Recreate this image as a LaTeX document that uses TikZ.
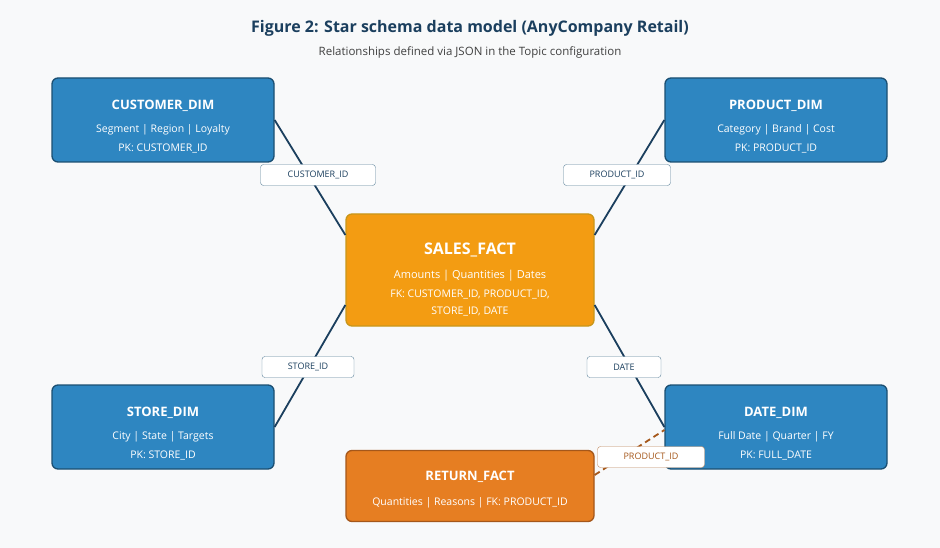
\documentclass[tikz,border=0pt]{standalone}
\usepackage{fontspec}
\setmainfont{Open Sans}
\usetikzlibrary{positioning,calc}
\definecolor{dimfill}{HTML}{2E86C1}
\definecolor{dimline}{HTML}{1B4F72}
\definecolor{factfill}{HTML}{F39C12}
\definecolor{factline}{HTML}{C8961A}
\definecolor{retfill}{HTML}{E67E22}
\definecolor{retline}{HTML}{A5571A}
\definecolor{linkcol}{HTML}{1B3F5E}
\definecolor{bgcol}{HTML}{F8F9FA}
\newcommand{\boxtitle}[2]{{\fontsize{#2}{15}\selectfont\bfseries\rule{0pt}{22pt}#1}}
\tikzset{dim/.style={draw=dimline,fill=dimfill,line width=1.3pt,rounded corners=6pt,minimum width=222pt,minimum height=84pt,text=white,align=center,font=\fontsize{10.5}{19}\selectfont},
  fact/.style={draw=factline,fill=factfill,line width=1.3pt,rounded corners=6pt,minimum width=248pt,minimum height=112pt,text=white,align=center,font=\fontsize{11}{22}\selectfont},
  ret/.style={draw=retline,fill=retfill,line width=1.3pt,rounded corners=6pt,minimum width=248pt,minimum height=71pt,text=white,align=center,font=\fontsize{10.5}{19}\selectfont},
  key/.style={draw=dimline!70,fill=white,rounded corners=3pt,minimum height=21pt,inner sep=0pt,text=linkcol,font=\fontsize{9}{9}\selectfont},
  link/.style={draw=linkcol,line width=1.8pt}}
\begin{document}
\begin{tikzpicture}[x=1pt,y=-1pt]
  \fill[bgcol] (0,0) rectangle (940,548);
  \useasboundingbox (0,0) rectangle (940,548);

  % title
  \node (title) at (470,28) {\fontsize{16}{18}\selectfont\bfseries\color{linkcol}Figure 2: Star schema data model (AnyCompany Retail)};
  \node (sub) at (470,52) {\fontsize{11.5}{13}\selectfont\color{black!75}Relationships defined via JSON in the Topic configuration};

  % tables
  \node (cust) [dim] at (163,120) {\boxtitle{CUSTOMER\_DIM}{13}\\[4pt]Segment | Region | Loyalty\\PK: CUSTOMER\_ID};
  \node (prod) [dim] at (776,120) {\boxtitle{PRODUCT\_DIM}{13}\\[4pt]Category | Brand | Cost\\PK: PRODUCT\_ID};
  \node (store) [dim] at (163,427) {\boxtitle{STORE\_DIM}{13}\\[4pt]City | State | Targets\\PK: STORE\_ID};
  \node (date) [dim] at (776,427) {\boxtitle{DATE\_DIM}{13}\\[4pt]Full Date | Quarter | FY\\PK: FULL\_DATE};
  \node (sales) [fact] at (470,270) {{\fontsize{16}{17}\selectfont\bfseries\rule{0pt}{30pt}SALES\_FACT}\\[2pt]Amounts | Quantities | Dates\\[-3pt]{\fontsize{10.5}{22}\selectfont FK: CUSTOMER\_ID, PRODUCT\_ID,}\\[-5pt]{\fontsize{10.5}{17}\selectfont STORE\_ID, DATE}};
  \node (ret) [ret] at (470,486) {{\fontsize{13}{15}\selectfont\bfseries\rule{0pt}{16pt}RETURN\_FACT}\\[6pt]Quantities | Reasons | FK: PRODUCT\_ID};

  % relationships
  \draw[link] (cust.east) -- (sales.west |- 0,235);
  \draw[link] (prod.west) -- (sales.east |- 0,235);
  \draw[link] (store.east) -- (sales.west |- 0,305);
  \draw[link] (date.west) -- (sales.east |- 0,305);
  \draw[draw=retline,line width=1.8pt,dash pattern=on 6pt off 4pt] (ret.east |- 0,475) -- (date.west |- 0,430);

  % key labels
  \node (kcust) [key,minimum width=115pt] at (318,175) {CUSTOMER\_ID};
  \node (kprod) [key,minimum width=107pt] at (617,175) {PRODUCT\_ID};
  \node (kstore) [key,minimum width=92pt] at (308,367) {STORE\_ID};
  \node (kdate) [key,minimum width=74pt] at (624,367) {DATE};
  \node (kret) [key,minimum width=107pt,draw=retline!70,text=retline] at (651,457) {PRODUCT\_ID};
\end{tikzpicture}
\end{document}
